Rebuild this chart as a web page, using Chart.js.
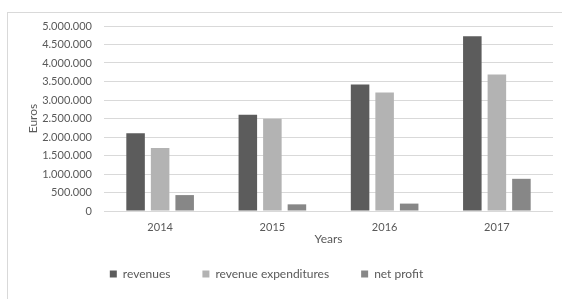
<!DOCTYPE html>
<html>
<head>
<meta charset="utf-8">
<script src="https://cdn.jsdelivr.net/npm/chart.js@4/dist/chart.umd.min.js"></script>
<style>
  body { margin: 0; background: #fff; }
  #frame { position: absolute; left: 7px; top: 12px; width: 560px; height: 300px; border: 1px solid #d9d9d9; }
  #c { position: absolute; left: 0; top: 0; }
</style>
</head>
<body>
<div id="frame"></div>
<canvas id="c" width="562" height="299"></canvas>
<script>
var years = ['2014', '2015', '2016', '2017'];
var revenues = [2100000, 2600000, 3420000, 4720000];
var revenueExpenditures = [1700000, 2490000, 3200000, 3690000];
var netProfit = [430000, 180000, 200000, 870000];

var textColor = '#595959',
    gridColor = '#d9d9d9';

function dotted(v) {
  return String(v).replace(/\B(?=(\d{3})+(?!\d))/g, '.');
}

// legend sits a bit left of centre and closer to the axis title
var legendPlace = {
  id: 'legendPlace',
  afterInit: function (chart) {
    var lg = chart.legend;
    var fit = lg.fit;
    lg.fit = function () {
      fit.call(this);
      this.height = 30;
    };
  },
  afterLayout: function (chart) {
    var lg = chart.legend;
    lg.top = 274 - lg.options.labels.padding - 6;
    lg.bottom = chart.height;
    lg.right = 526;
  }
};

Chart.defaults.font.family = 'Lato, "Open Sans", sans-serif';
Chart.defaults.color = textColor;

var ctx = document.getElementById('c');
new Chart(ctx, {
  type: 'bar',
  data: {
    labels: years,
    datasets: [{
      label: 'revenues',
      data: revenues,
      backgroundColor: '#5c5c5c'
    }, {
      label: 'revenue expenditures',
      data: revenueExpenditures,
      backgroundColor: '#b3b3b3'
    }, {
      label: 'net profit',
      data: netProfit,
      backgroundColor: '#878787'
    }]
  },
  options: {
    responsive: false,
    animation: false,
    categoryPercentage: 0.656,
    barPercentage: 0.755,
    layout: { padding: { left: 7, right: 9, top: 26, bottom: 22 } },
    plugins: {
      tooltip: { enabled: false },
      legend: {
        position: 'bottom',
        labels: {
          boxWidth: 7,
          boxHeight: 7,
          padding: 32,
          font: { size: 12 },
          color: textColor
        }
      }
    },
    scales: {
      x: {
        grid: { display: false },
        border: { display: false },
        ticks: { padding: 2, font: { size: 11 }, color: textColor },
        title: { display: true, text: 'Years', font: { size: 12 }, color: textColor, padding: { top: 0, bottom: 1 } },
        afterFit: function (s) { s.height = 36; }
      },
      y: {
        min: 0,
        max: 5000000,
        grid: { color: gridColor, drawTicks: false },
        border: { display: false },
        ticks: {
          stepSize: 500000,
          padding: 12,
          font: { size: 11 },
          color: textColor,
          callback: function (v) { return dotted(v); }
        },
        title: { display: true, text: 'Euros', font: { size: 12 }, color: textColor, padding: { top: 19, bottom: 0 } },
        afterFit: function (s) { s.width = 97; }
      }
    }
  },
  plugins: [legendPlace]
});
</script>
</body>
</html>
